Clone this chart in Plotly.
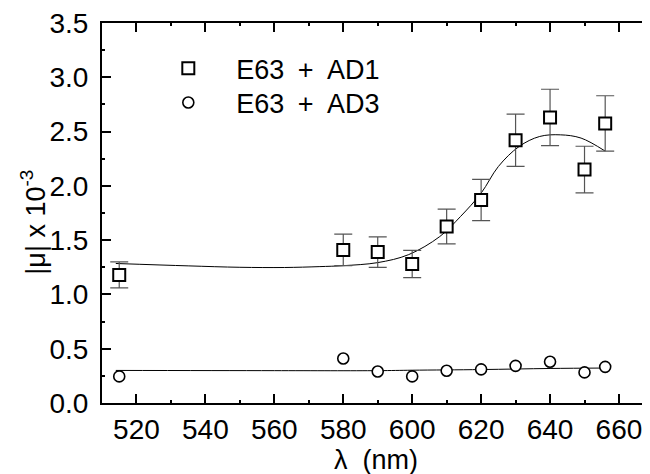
import plotly.graph_objects as go

# ---- data ----
wavelength = [515, 580, 590, 600, 610, 620, 630, 640, 650, 656]
ad1_mu = [1.18, 1.41, 1.39, 1.28, 1.625, 1.87, 2.42, 2.63, 2.15, 2.575]
ad1_err = [0.12, 0.145, 0.14, 0.125, 0.16, 0.19, 0.24, 0.26, 0.215, 0.255]
ad3_mu = [0.245, 0.41, 0.29, 0.245, 0.297, 0.31, 0.342, 0.38, 0.282, 0.333]

fit1_x = [514, 535, 550, 563, 573, 580, 590, 599, 608, 614, 620, 625, 631, 637, 643, 649, 656]
fit1_y = [1.285, 1.263, 1.250, 1.248, 1.256, 1.265, 1.293, 1.367, 1.533, 1.717, 1.933,
          2.178, 2.362, 2.455, 2.470, 2.440, 2.320]
fit3_x = [514, 560, 590, 600, 620, 640, 656]
fit3_y = [0.300, 0.298, 0.298, 0.302, 0.308, 0.318, 0.322]

x_ticks = [520, 540, 560, 580, 600, 620, 640, 660]
y_ticks = [0.0, 0.5, 1.0, 1.5, 2.0, 2.5, 3.0, 3.5]
y_ticklabels = ["0.0", "0.5", "1.0", "1.5", "2.0", "2.5", "3.0", "3.5"]
series_names = ["E63\u2002+\u2002AD1", "E63\u2002+\u2002AD3"]

FONT = "Liberation Sans, Arial, sans-serif"
FS = 27
TFS = 28
pad = "\u00a0\u00a0\u00a0\u2009"

fig = go.Figure()

fig.add_trace(go.Scatter(x=fit1_x, y=fit1_y, mode="lines", line=dict(color="black", width=1, shape="spline"),
                         showlegend=False, hoverinfo="skip"))
fig.add_trace(go.Scatter(x=fit3_x, y=fit3_y, mode="lines", line=dict(color="black", width=1, shape="spline"),
                         showlegend=False, hoverinfo="skip"))

fig.add_trace(go.Scatter(
    x=wavelength, y=ad1_mu, mode="markers", name=pad + series_names[0], legend="legend",
    marker=dict(symbol="square", size=12, color="white", line=dict(color="black", width=2)),
    error_y=dict(type="data", array=ad1_err, visible=True, color="#555555", thickness=1.2, width=9),
))
fig.add_trace(go.Scatter(
    x=wavelength, y=ad3_mu, mode="markers", name=pad + series_names[1], legend="legend2",
    marker=dict(symbol="circle", size=11, color="white", line=dict(color="black", width=1.6)),
))
# invisible trace so that the right-hand tick marks are drawn
fig.add_trace(go.Scatter(x=[wavelength[0]], y=[ad1_mu[0]], yaxis="y2", mode="markers",
                         marker=dict(opacity=0), showlegend=False, hoverinfo="skip"))

axis_common = dict(
    showgrid=False, zeroline=False, showline=True, linecolor="black", linewidth=2,
    ticks="inside", ticklen=9, tickwidth=1.5, tickcolor="black",
    tickfont=dict(family=FONT, size=TFS, color="black"),
    ticklabeloverflow="allow",
)

legend_common = dict(xanchor="left", yanchor="top", bgcolor="rgba(0,0,0,0)",
                     font=dict(family=FONT, size=FS, color="black"))

fig.update_layout(
    width=642, height=466,
    margin=dict(l=94, r=0, t=15, b=71),
    paper_bgcolor="white", plot_bgcolor="white",
    font=dict(family=FONT, size=FS, color="black"),
    xaxis=dict(range=[510, 669], tickvals=x_ticks, mirror="ticks",
               minor=dict(ticks="inside", ticklen=3, tickwidth=1.5, dtick=10, tick0=510, tickcolor="black"),
               **axis_common),
    yaxis=dict(range=[0, 3.5], tickvals=y_ticks, ticktext=y_ticklabels, ticklabelstandoff=6,
               minor=dict(ticks="inside", ticklen=3, tickwidth=1.5, dtick=0.25, tick0=0, tickcolor="black"),
               **axis_common),
    yaxis2=dict(range=[0, 3.5], overlaying="y", side="right", anchor="x", tickvals=y_ticks,
                showticklabels=False, showgrid=False, zeroline=False, showline=False,
                ticks="inside", ticklen=6, tickwidth=1.5, tickcolor="black"),
    legend=dict(x=0.121, y=0.944, **legend_common),
    legend2=dict(x=0.121, y=0.854, **legend_common),
    annotations=[
        dict(text="\u03bb\u00a0 (nm)", xref="paper", yref="paper", x=0.5, y=-0.149,
             xanchor="center", yanchor="middle", showarrow=False,
             font=dict(family=FONT, size=FS, color="black")),
        dict(text="|\u03bc| x 10<sup>-3</sup>", xref="paper", yref="paper", x=-0.126, y=0.477,
             xanchor="center", yanchor="middle", textangle=-90, showarrow=False,
             font=dict(family=FONT, size=FS, color="black")),
    ],
)

fig.write_html("out.html")
